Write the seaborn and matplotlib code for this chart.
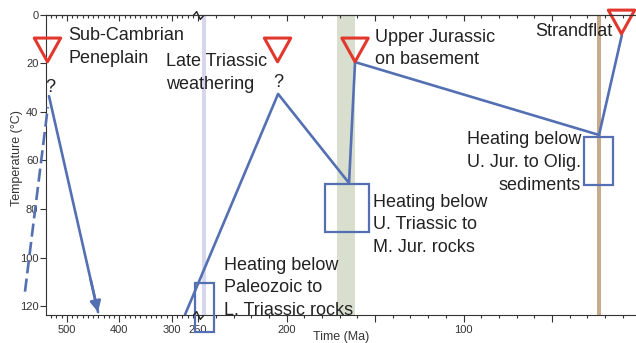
import numpy as np
import matplotlib
matplotlib.use("Agg")
import matplotlib.pyplot as plt
import seaborn as sns
from matplotlib.patches import Rectangle
from matplotlib.path import Path
from matplotlib.ticker import FixedLocator, FuncFormatter
from matplotlib.transforms import blended_transform_factory

# ---------------- data (Ma, degC) ----------------
# solid path 1 (Sub-Cambrian peak, then burial)
path1_t = [533.8, 440.5]
path1_T = [33.5, 122.4]
# dashed early segment
dash_t = [579.5, 536.0]
dash_T = [114.0, 38.0]
# solid path 2
path2_t = [275.0, 204.8, 164.7, 161.3, 23.4, 10.5]
path2_T = [123.5, 32.6, 69.3, 19.5, 49.5, 8.4]
# surface (exposure) constraints - triangles
surf_t = [536.7, 205.1, 161.3, 10.7]
surf_T = [14.5, 14.5, 14.5, 3.0]
# heating constraint boxes: time old/young, temperature top/bottom
box_t_old = [255.7, 178.2, 31.9]
box_t_young = [241.0, 153.4, 15.5]
box_T_top = [110.4, 69.8, 50.3]
box_T_bot = [130.6, 89.4, 70.1]
# vertical bands: start, end
band_t0 = [248.0, 171.5, 24.6]
band_t1 = [245.5, 161.3, 22.3]
band_colors = ["#d6d6ee", "#d9dfcf", "#c8ab8c"]
# question marks
q_t = [532.0, 204.8]
q_T = [30.0, 28.0]
# ticks
major_ticks = [500, 400, 300, 250, 200, 150, 100, 50]
labeled_ticks = [500, 400, 300, 250, 200, 100]
minor_ticks = [t for t in range(530, 0, -10) if t not in major_ticks]
y_ticks = [0, 20, 40, 60, 80, 100, 120]

BREAK = 250.0
RATIO = 0.297

BLUE = "#5470b3"
RED = "#e2372d"
INK = "#222222"


def fwd(t):
    t = np.asarray(t, dtype=float)
    return np.where(t > BREAK, BREAK + RATIO * (t - BREAK), t)


def inv(u):
    u = np.asarray(u, dtype=float)
    return np.where(u > BREAK, BREAK + (u - BREAK) / RATIO, u)


sns.set_theme(style="ticks")
plt.rcParams["font.family"] = ["Liberation Sans", "DejaVu Sans"]

W, H = 636, 343
fig = plt.figure(figsize=(W / 100, H / 100), dpi=100)
ax = fig.add_axes([46 / W, 1 - 315 / H, (W - 46) / W, (315 - 14.7) / H])
ax.set_xscale("function", functions=(fwd, inv))
ax.set_xlim(539.5, 2.5)
ax.set_ylim(123.6, 0)

# bands
for a, b, c in zip(band_t0, band_t1, band_colors):
    ax.axvspan(a, b, color=c, lw=0, zorder=0)

# lines
sns.lineplot(x=dash_t, y=dash_T, sort=False, estimator=None, color=BLUE,
             lw=1.9, linestyle=(0, (5, 2)), clip_on=False, ax=ax, zorder=3)
sns.lineplot(x=path1_t, y=path1_T, sort=False, estimator=None, color=BLUE,
             lw=1.9, ax=ax, zorder=3)
sns.lineplot(x=path2_t, y=path2_T, sort=False, estimator=None, color=BLUE,
             lw=1.9, ax=ax, zorder=3)
# arrow head at end of path 1
x0 = path1_t[0] + 0.85 * (path1_t[1] - path1_t[0])
y0 = path1_T[0] + 0.85 * (path1_T[1] - path1_T[0])
ax.annotate("", xy=(path1_t[1], path1_T[1]), xytext=(x0, y0),
            arrowprops=dict(arrowstyle="-|>", color=BLUE, lw=1.9,
                            mutation_scale=16, shrinkA=0, shrinkB=0),
            zorder=4)

# boxes
for t0, t1, T0, T1 in zip(box_t_old, box_t_young, box_T_top, box_T_bot):
    ax.add_patch(Rectangle((t0, T0), t1 - t0, T1 - T0, fill=False,
                           ec=BLUE, lw=1.6, clip_on=False, zorder=4))

# triangles
tri = Path([(-1, 0.9), (1, 0.9), (0, -0.9), (-1, 0.9)],
           [Path.MOVETO, Path.LINETO, Path.LINETO, Path.CLOSEPOLY])
sns.scatterplot(x=surf_t, y=surf_T, marker=tri, s=19 ** 2, facecolors="none",
                edgecolors=RED, linewidths=2.2, clip_on=False, zorder=6, ax=ax)

# question marks
for t, T in zip(q_t, q_T):
    ax.text(t, T, "?", fontsize=13, color=INK, ha="center", va="center")

# ticks
ax.xaxis.set_major_locator(FixedLocator(major_ticks))
ax.xaxis.set_minor_locator(FixedLocator(minor_ticks))
ax.xaxis.set_major_formatter(FuncFormatter(
    lambda v, p: str(int(round(v))) if int(round(v)) in labeled_ticks else ""))
ax.tick_params(axis="x", which="major", length=5, width=0.8, direction="out",
               labelsize=8, pad=2, colors="#333333")
ax.tick_params(axis="x", which="minor", length=2.5, width=0.8,
               direction="out", colors="#333333")
ax.set_yticks(y_ticks)
ax.tick_params(axis="y", length=4, width=0.8, labelsize=8, pad=1.5,
               colors="#333333")
for s in ["left", "bottom", "top"]:
    ax.spines[s].set_linewidth(0.8)
    ax.spines[s].set_color("#333333")
ax.spines["right"].set_visible(False)
ax.set_xlabel("")
ax.set_ylabel("")

# top ticks pointing inward
ax2 = ax.twiny()
ax2.set_xscale("function", functions=(fwd, inv))
ax2.set_xlim(ax.get_xlim())
ax2.xaxis.set_major_locator(FixedLocator(major_ticks))
ax2.xaxis.set_minor_locator(FixedLocator(minor_ticks))
ax2.tick_params(axis="x", which="both", top=True, bottom=False,
                labeltop=False, labelbottom=False)
ax2.tick_params(axis="x", which="major", length=4, width=0.8, direction="in",
                colors="#333333")
ax2.tick_params(axis="x", which="minor", length=2.5, width=0.8,
                direction="in", colors="#333333")
for s in ["left", "bottom", "right"]:
    ax2.spines[s].set_visible(False)
ax2.spines["top"].set_linewidth(0.8)
ax2.spines["top"].set_color("#333333")

# axis break glyphs
zig = Path([(-1, 0), (-0.35, 0.75), (0.35, -0.75), (1, 0)],
           [Path.MOVETO, Path.LINETO, Path.LINETO, Path.LINETO])
btr = blended_transform_factory(ax.transData, ax.transAxes)
for yy in (0.0, 1.0):
    ax.plot([BREAK], [yy], transform=btr, marker=zig, ms=7.5, mfc="none",
            mec="#222222", mew=1.0, clip_on=False, zorder=7, ls="")

# labels
def fx(x):
    return x / W


def fy(y):
    return 1 - y / H


fig.text(fx(341), fy(337), "Time (Ma)", fontsize=9, ha="center",
         va="center", color="#333333")
fig.text(fx(17), fy(158), "Temperature (°C)", fontsize=9, ha="center",
         va="center", rotation=90, color="#333333")

LS = 1.45
ann = dict(fontsize=13, color=INK, linespacing=LS)
fig.text(fx(68), fy(27), "Sub-Cambrian\nPeneplain", ha="left", va="top", **ann)
fig.text(fx(166), fy(53.5), "Late Triassic\nweathering", ha="left", va="top", **ann)
fig.text(fx(375), fy(28.5), "Upper Jurassic\non basement", ha="left", va="top", **ann)
fig.text(fx(535), fy(23.5), "Strandflat", ha="left", va="top", **ann)
fig.text(fx(224), fy(256.5), "Heating below\nPaleozoic to\nL. Triassic rocks",
         ha="left", va="top", **ann)
fig.text(fx(373), fy(193.5), "Heating below\nU. Triassic to\nM. Jur. rocks",
         ha="left", va="top", **ann)
fig.text(fx(581), fy(131), "Heating below\nU. Jur. to Olig.\nsediments",
         ha="right", va="top", **ann)

fig.savefig("out.png", dpi=100)
